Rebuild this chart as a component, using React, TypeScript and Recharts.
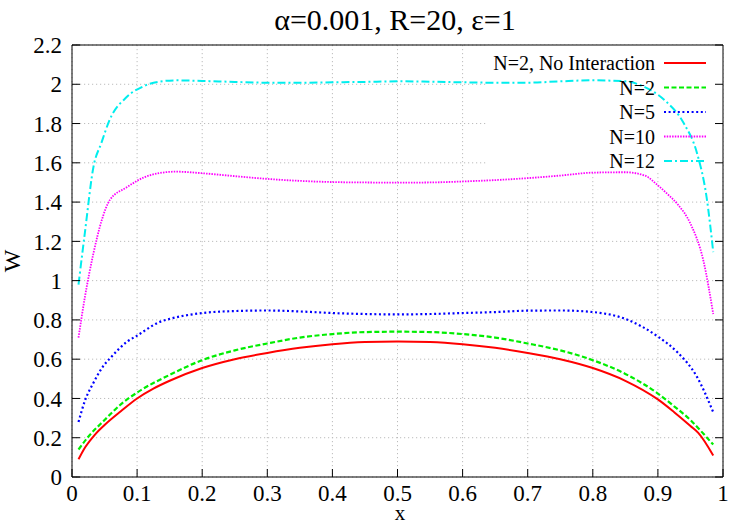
import React from 'react';
import { LineChart, Line, XAxis, YAxis, CartesianGrid, ReferenceArea } from 'recharts';

const titleText = 'α=0.001, R=20, ε=1';
const xLabel = 'x';
const yLabel = 'W';
const xTicks = [0, 0.1, 0.2, 0.3, 0.4, 0.5, 0.6, 0.7, 0.8, 0.9, 1];
const yTicks = [0, 0.2, 0.4, 0.6, 0.8, 1, 1.2, 1.4, 1.6, 1.8, 2, 2.2];

const seriesNames = ['N=2, No Interaction', 'N=2', 'N=5', 'N=10', 'N=12'];

const redX = [0.01, 0.02, 0.035, 0.05, 0.075, 0.1, 0.125, 0.15, 0.2, 0.25, 0.3, 0.35, 0.4, 0.45, 0.5, 0.55, 0.6, 0.65, 0.7, 0.75, 0.8, 0.85, 0.9, 0.925, 0.95, 0.962, 0.985];
const redY = [0.09, 0.15, 0.215, 0.265, 0.335, 0.4, 0.45, 0.49, 0.555, 0.6, 0.632, 0.658, 0.676, 0.687, 0.69, 0.687, 0.676, 0.658, 0.632, 0.6, 0.555, 0.49, 0.395, 0.33, 0.26, 0.225, 0.11];

const greenX = [0.01, 0.025, 0.05, 0.075, 0.1, 0.15, 0.2, 0.25, 0.3, 0.35, 0.4, 0.45, 0.5, 0.55, 0.6, 0.65, 0.7, 0.75, 0.8, 0.85, 0.9, 0.925, 0.95, 0.97, 0.985];
const greenY = [0.14, 0.205, 0.29, 0.37, 0.43, 0.52, 0.595, 0.645, 0.68, 0.71, 0.728, 0.738, 0.74, 0.738, 0.728, 0.71, 0.68, 0.645, 0.595, 0.525, 0.425, 0.36, 0.29, 0.22, 0.165];

const blueX = [0.01, 0.02, 0.033, 0.047, 0.06, 0.085, 0.1, 0.135, 0.15, 0.2, 0.25, 0.3, 0.35, 0.4, 0.45, 0.5, 0.55, 0.6, 0.65, 0.7, 0.75, 0.8, 0.85, 0.9, 0.93, 0.96, 0.985];
const blueY = [0.28, 0.39, 0.48, 0.56, 0.61, 0.69, 0.72, 0.79, 0.805, 0.835, 0.845, 0.848, 0.843, 0.835, 0.83, 0.828, 0.83, 0.835, 0.84, 0.847, 0.848, 0.84, 0.805, 0.715, 0.635, 0.51, 0.33];

const magentaX = [0.01, 0.02, 0.033, 0.045, 0.058, 0.084, 0.11, 0.135, 0.16, 0.2, 0.25, 0.3, 0.35, 0.4, 0.45, 0.5, 0.55, 0.6, 0.65, 0.7, 0.75, 0.8, 0.85, 0.88, 0.9, 0.915, 0.93, 0.95, 0.97, 0.985];
const magentaY = [0.71, 0.92, 1.14, 1.3, 1.41, 1.475, 1.525, 1.548, 1.555, 1.547, 1.532, 1.518, 1.508, 1.502, 1.5, 1.499, 1.5, 1.505, 1.512, 1.522, 1.535, 1.55, 1.552, 1.535, 1.485, 1.44, 1.39, 1.29, 1.1, 0.83];

const cyanX = [0.01, 0.02, 0.033, 0.045, 0.058, 0.084, 0.11, 0.135, 0.16, 0.2, 0.25, 0.3, 0.35, 0.4, 0.45, 0.5, 0.55, 0.6, 0.65, 0.7, 0.75, 0.8, 0.85, 0.88, 0.91, 0.94, 0.96, 0.975, 0.985];
const cyanY = [0.98, 1.25, 1.58, 1.7, 1.82, 1.935, 1.99, 2.014, 2.02, 2.017, 2.012, 2.008, 2.008, 2.01, 2.012, 2.015, 2.013, 2.01, 2.008, 2.008, 2.015, 2.02, 2.015, 1.985, 1.92, 1.8, 1.65, 1.42, 1.145];

const toPoints = (xs: number[], ys: number[]) => xs.map((x, i) => ({ x, y: ys[i] }));

const series = [
  { name: seriesNames[0], data: toPoints(redX, redY), color: '#ff0000', dash: undefined as string | undefined, width: 2 },
  { name: seriesNames[1], data: toPoints(greenX, greenY), color: '#00ee00', dash: '5 2.5', width: 2.2 },
  { name: seriesNames[2], data: toPoints(blueX, blueY), color: '#0000ff', dash: '2 2.6', width: 2.2 },
  { name: seriesNames[3], data: toPoints(magentaX, magentaY), color: '#ff00ff', dash: '1.5 1.2', width: 1.8 },
  { name: seriesNames[4], data: toPoints(cyanX, cyanY), color: '#00eeee', dash: '8 3 2 3', width: 2 },
];

const FONT = "'Liberation Serif', 'Times New Roman', Times, serif";
const textStyle = { fontFamily: FONT };

const EmptyTick = () => <g />;

const XTick = (props: any) => (
  <text x={props.x} y={props.y} dy="0.71em" textAnchor="middle" style={textStyle} fontSize={23} fill="#000">
    {String(props.payload.value)}
  </text>
);

const YTick = (props: any) => (
  <text x={props.x} y={props.y} dy="0.355em" textAnchor="end" style={textStyle} fontSize={23} fill="#000">
    {String(props.payload.value)}
  </text>
);

export default function App() {
  return (
    <div style={{ position: 'absolute', left: 0, top: 0, width: 750, height: 525, background: '#fff' }}>
      <LineChart width={750} height={525} margin={{ top: 44, right: 26, bottom: 18, left: 22 }}>
        <CartesianGrid stroke="#bcbcbc" strokeDasharray="1.2 2.8" strokeWidth={1} />
        <XAxis dataKey="x" type="number" domain={[0, 1]} ticks={xTicks} allowDataOverflow
          height={30} stroke="#000" tickSize={-8} tickMargin={16} interval={0} tick={XTick} />
        <XAxis xAxisId="top" orientation="top" type="number" domain={[0, 1]} ticks={xTicks} allowDataOverflow
          height={1} stroke="#000" tickSize={-8} tick={EmptyTick} interval={0} />
        <YAxis type="number" domain={[0, 2.2]} ticks={yTicks} allowDataOverflow width={50}
          stroke="#000" tickSize={-8} tickMargin={18} interval={0} tick={YTick} />
        <YAxis yAxisId="right" orientation="right" type="number" domain={[0, 2.2]} ticks={yTicks} allowDataOverflow
          width={1} stroke="#000" tickSize={-8} tick={EmptyTick} interval={0} />
        <ReferenceArea x1={0.639} x2={1} y1={1.56} y2={2.2} fill="#ffffff" fillOpacity={1} stroke="none" ifOverflow="hidden" />
        {series.map((s) => (
          <Line key={s.name} data={s.data} dataKey="y" name={s.name} type="monotone" stroke={s.color}
            strokeWidth={s.width} strokeDasharray={s.dash} dot={false} activeDot={false} isAnimationActive={false} />
        ))}
      </LineChart>
      <svg width={750} height={525} style={{ position: 'absolute', left: 0, top: 0, pointerEvents: 'none' }}>
        <text x={395} y={30} textAnchor="middle" style={textStyle} fontSize={30} fill="#000">{titleText}</text>
        <text x={400} y={520} textAnchor="middle" style={textStyle} fontSize={21} fill="#000">{xLabel}</text>
        <text x={20} y={261} textAnchor="middle" style={textStyle} fontSize={24} fill="#000" transform="rotate(-90 20 261)">{yLabel}</text>
        {series.map((s, i) => {
          const y = 63 + i * 24.5;
          return (
            <g key={s.name}>
              <text x={655} y={y + 7} textAnchor="end" style={textStyle} fontSize={20} fill="#000">{s.name}</text>
              <line x1={664} x2={706} y1={y} y2={y} stroke={s.color} strokeWidth={s.width} strokeDasharray={s.dash} />
            </g>
          );
        })}
      </svg>
    </div>
  );
}
